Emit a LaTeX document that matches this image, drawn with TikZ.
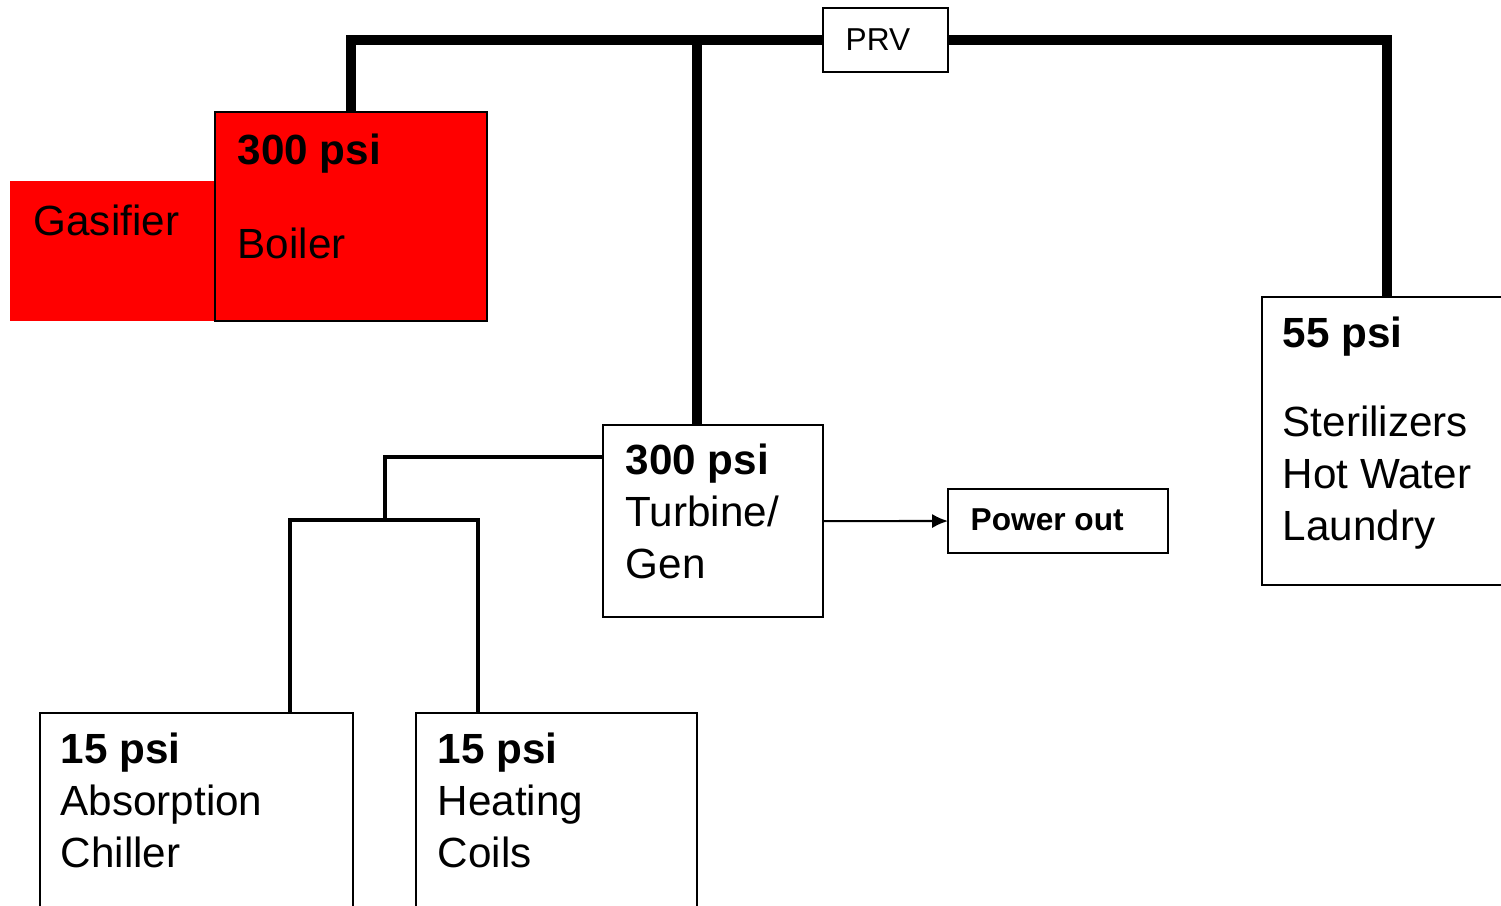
\documentclass[tikz,border=0pt]{standalone}
\usepackage{fontspec}
\setmainfont{Liberation Sans}
\usetikzlibrary{arrows.meta}

\begin{document}
\begin{tikzpicture}[x=0.01cm,y=-0.01cm,
        box/.style={draw,line width=0.6pt,inner sep=0pt,outer sep=0pt,anchor=north west},
        lbl/.style={anchor=base west,align=left,inner sep=0pt,font=\fontsize{12}{14.65}\selectfont},
        small/.style={anchor=base west,inner sep=0pt,font=\fontsize{9}{11}\selectfont},
        pipe/.style={line width=2.7pt},
        branch/.style={line width=1.4pt}]
    \useasboundingbox (0,0) rectangle (1501,905);

    % plant
    \node[box,draw=none,fill=red,minimum width=2.05cm,minimum height=1.40cm] (gasifier) at (10,181) {};
    \node[box,fill=red,minimum width=2.72cm,minimum height=2.09cm] (boiler) at (215,112) {};
    \node[box,minimum width=1.25cm,minimum height=0.64cm] (prv) at (823,8) {};
    \node[box,minimum width=2.20cm,minimum height=1.92cm] (turbine) at (603,425) {};
    \node[box,minimum width=2.20cm,minimum height=0.64cm] (power) at (948,489) {};
    \node[box,minimum width=2.50cm,minimum height=2.88cm] (steam55) at (1262,297) {};
    \node[box,minimum width=3.13cm,minimum height=2.00cm] (chiller) at (40,713) {};
    \node[box,minimum width=2.81cm,minimum height=2.00cm] (coils) at (416,713) {};

    % texts (base = last line)
    \node[lbl] (gastext) at ([shift={(23,54)}]gasifier.north west) {Gasifier};
    \node[lbl] (boilertext) at ([shift={(22,146)}]boiler.north west) {\textbf{300 psi}\\[11.9pt]Boiler};
    \node[small] (prvtext) at ([shift={(22,42)}]prv.north west) {PRV};
    \node[lbl] (turbinetext) at ([shift={(22,153)}]turbine.north west) {\textbf{300 psi}\\Turbine/\\Gen};
    \node[small,font=\fontsize{9}{11}\selectfont\bfseries] (powertext) at ([shift={(22,41)}]power.north west) {Power out};
    \node[lbl] (steamtext) at ([shift={(20,243)}]steam55.north west) {\textbf{55 psi}\\[10.7pt]Sterilizers\\Hot Water\\Laundry};
    \node[lbl] (chillertext) at ([shift={(20,154)}]chiller.north west) {\textbf{15 psi}\\Absorption\\Chiller};
    \node[lbl] (coilstext) at ([shift={(21,154)}]coils.north west) {\textbf{15 psi}\\Heating\\Coils};

    % steam lines
    \coordinate (tee) at (697,40);
    \coordinate (tap) at (603,457);
    \coordinate (split) at (385,520);
    \coordinate (cj) at (290,713);
    \coordinate (hj) at (478,713);
    \draw[pipe] (boiler.north) |- (prv.west);
    \draw[pipe] (prv.east) -| (steam55.north);
    \draw[pipe] (tee) -- (tee |- turbine.north);
    \draw[branch] (tap) -| (split);
    \draw[branch] (cj) |- (split) -| (hj);
    \draw[-{Latex[length=4.5pt,width=4pt]},line width=0.6pt] (turbine.east) -- (power.west);
\end{tikzpicture}
\end{document}
